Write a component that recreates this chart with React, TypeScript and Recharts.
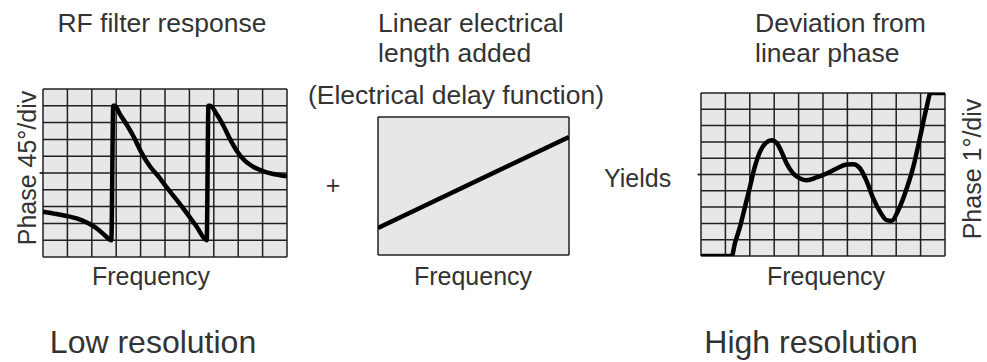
import React from "react";
import {
  LineChart,
  Line,
  XAxis,
  YAxis,
  CartesianGrid,
  ReferenceLine
} from "recharts";

// grid runs 0..10 on both axes, one division per unit
const divisions = [0, 1, 2, 3, 4, 5, 6, 7, 8, 9, 10];
const boxEdges = [0, 10];
// little reference tick sticking out left of the grid at mid scale
const midTick = [
  { x: -0.14, y: 5 },
  { x: 0, y: 5 }
];

// RF filter response (wrapped phase)
const filterPhase = [
  { x: 0, y: 2.7 },
  { x: 0.55, y: 2.56 },
  { x: 1.1, y: 2.4 },
  { x: 1.58, y: 2.2 },
  { x: 1.92, y: 1.96 },
  { x: 2.26, y: 1.64 },
  { x: 2.53, y: 1.3 },
  { x: 2.8, y: 1.0 },
  { x: 2.88, y: 9.0 },
  { x: 2.95, y: 9.0 },
  { x: 3.15, y: 8.5 },
  { x: 3.42, y: 7.9 },
  { x: 3.7, y: 7.2 },
  { x: 4.04, y: 6.2 },
  { x: 4.38, y: 5.4 },
  { x: 4.73, y: 4.8 },
  { x: 5.07, y: 4.14 },
  { x: 5.48, y: 3.4 },
  { x: 5.9, y: 2.6 },
  { x: 6.3, y: 1.8 },
  { x: 6.71, y: 1.0 },
  { x: 6.78, y: 9.0 },
  { x: 6.85, y: 9.0 },
  { x: 7.12, y: 8.5 },
  { x: 7.4, y: 7.8 },
  { x: 7.67, y: 7.0 },
  { x: 7.95, y: 6.3 },
  { x: 8.29, y: 5.7 },
  { x: 8.63, y: 5.36 },
  { x: 9.04, y: 5.1 },
  { x: 9.45, y: 4.94 },
  { x: 10, y: 4.8 }
];

// electrical delay: straight line
const delayLine = [
  { x: 0, y: 1.96 },
  { x: 10, y: 8.55 }
];

// deviation from linear phase
const deviation = [
  { x: 0, y: 0 },
  { x: 1.26, y: 0 },
  { x: 1.39, y: 0.78 },
  { x: 1.6, y: 1.8 },
  { x: 1.8, y: 3.0 },
  { x: 2.0, y: 4.2 },
  { x: 2.21, y: 5.5 },
  { x: 2.42, y: 6.4 },
  { x: 2.66, y: 6.94 },
  { x: 2.9, y: 7.1 },
  { x: 3.1, y: 6.94 },
  { x: 3.3, y: 6.4 },
  { x: 3.51, y: 5.67 },
  { x: 3.78, y: 5.06 },
  { x: 4.06, y: 4.76 },
  { x: 4.33, y: 4.65 },
  { x: 4.74, y: 4.82 },
  { x: 5.15, y: 5.06 },
  { x: 5.56, y: 5.37 },
  { x: 5.97, y: 5.61 },
  { x: 6.24, y: 5.63 },
  { x: 6.52, y: 5.37 },
  { x: 6.8, y: 4.55 },
  { x: 7.06, y: 3.53 },
  { x: 7.34, y: 2.71 },
  { x: 7.61, y: 2.2 },
  { x: 7.81, y: 2.16 },
  { x: 8.09, y: 2.82 },
  { x: 8.43, y: 4.14 },
  { x: 8.7, y: 5.47 },
  { x: 8.98, y: 7.3 },
  { x: 9.25, y: 9.14 },
  { x: 9.41, y: 10 },
  { x: 10, y: 10 }
];

const INK = "#231f20";
const PAPER = "#e6e7e8";
const TEXT = "#333333";
const FONT = "'Liberation Sans', Arial, sans-serif";
const PAD = 6;

// map grid divisions through the axis scale (falls back to the plot offset)
const gridX = (ticks: number[]) => (props: any) => {
  const s = props?.xAxis?.scale;
  const o = props.offset;
  return ticks.map((t) =>
    typeof s === "function" ? s(t) : o.left + (t / 10) * o.width
  );
};
const gridY = (ticks: number[]) => (props: any) => {
  const s = props?.yAxis?.scale;
  const o = props.offset;
  return ticks.map((t) =>
    typeof s === "function" ? s(t) : o.top + o.height - (t / 10) * o.height
  );
};

interface PanelProps {
  left: number;
  top: number;
  plotW: number;
  plotH: number;
  data: { x: number; y: number }[];
  ticks: number[];
  showMid?: boolean;
}

function Panel({ left, top, plotW, plotH, data, ticks, showMid }: PanelProps) {
  return (
    <div style={{ position: "absolute", left: left - PAD, top: top - PAD }}>
      <LineChart
        width={plotW + PAD * 2}
        height={plotH + PAD * 2}
        margin={{ top: PAD, right: PAD, bottom: PAD, left: PAD }}
      >
        <CartesianGrid
          fill={PAPER}
          fillOpacity={1}
          stroke={INK}
          strokeWidth={1.5}
          strokeOpacity={1}
          verticalCoordinatesGenerator={gridX(ticks)}
          horizontalCoordinatesGenerator={gridY(ticks)}
        />
        <XAxis
          type="number"
          dataKey="x"
          domain={[0, 10]}
          ticks={ticks}
          allowDataOverflow
          hide
        />
        <YAxis
          type="number"
          domain={[0, 10]}
          ticks={ticks}
          allowDataOverflow
          hide
        />
        {showMid && (
          <ReferenceLine
            segment={midTick}
            ifOverflow="visible"
            stroke={INK}
            strokeWidth={1.8}
          />
        )}
        <Line
          data={data}
          dataKey="y"
          type="monotoneX"
          stroke="#000"
          strokeWidth={4.5}
          strokeLinejoin="round"
          strokeLinecap="butt"
          dot={false}
          activeDot={false}
          isAnimationActive={false}
        />
      </LineChart>
    </div>
  );
}

const textStyle = { fontFamily: FONT, fill: TEXT };

export default function App() {
  return (
    <div
      style={{
        position: "absolute",
        left: 0,
        top: 0,
        width: 987,
        height: 362,
        background: "#fff",
        overflow: "hidden"
      }}
    >
      <Panel left={43} top={89} plotW={244} plotH={168} data={filterPhase} ticks={divisions} showMid />
      <Panel left={378} top={117} plotW={191} plotH={138} data={delayLine} ticks={boxEdges} />
      <Panel left={701} top={93} plotW={244} plotH={163} data={deviation} ticks={divisions} showMid />

      <svg
        width={987}
        height={362}
        style={{ position: "absolute", left: 0, top: 0, pointerEvents: "none" }}
      >
        <g style={textStyle} fontSize={26.5}>
          <text x={162} y={32} textAnchor="middle">RF filter response</text>
          <text x={378} y={32}>Linear electrical</text>
          <text x={378} y={62}>length added</text>
          <text x={456} y={104} textAnchor="middle">(Electrical delay function)</text>
          <text x={755} y={32}>Deviation from</text>
          <text x={755} y={62}>linear phase</text>
        </g>
        <g style={textStyle} fontSize={25}>
          <text x={151} y={285} textAnchor="middle">Frequency</text>
          <text x={473} y={285} textAnchor="middle">Frequency</text>
          <text x={826} y={285} textAnchor="middle">Frequency</text>

          <text x={333} y={194} textAnchor="middle">+</text>
          <text x={604} y={187}>Yields</text>

          <text transform="translate(36,168) rotate(-90)" textAnchor="middle">
            Phase  45°/div
          </text>
          <text transform="translate(981,169) rotate(-90)" textAnchor="middle">
            Phase  1°/div
          </text>
        </g>
        <g style={textStyle} fontSize={32}>
          <text x={153} y={353} textAnchor="middle">Low resolution</text>
          <text x={811} y={353} textAnchor="middle">High resolution</text>
        </g>
      </svg>
    </div>
  );
}
